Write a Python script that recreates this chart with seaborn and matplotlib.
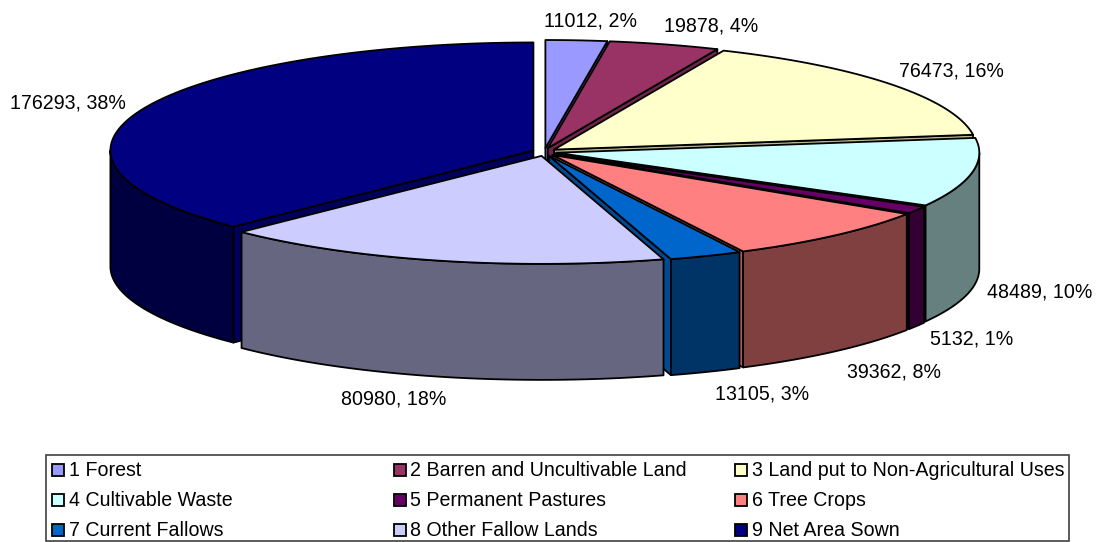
import numpy as np
import matplotlib
matplotlib.use("Agg")
import matplotlib.pyplot as plt
import seaborn as sns

names = ["1 Forest", "2 Barren and Uncultivable Land", "3 Land put to Non-Agricultural Uses",
         "4 Cultivable Waste", "5 Permanent Pastures", "6 Tree Crops",
         "7 Current Fallows", "8 Other Fallow Lands", "9 Net Area Sown"]
values = [11012, 19878, 76473, 48489, 5132, 39362, 13105, 80980, 176293]
percents = [2, 4, 16, 10, 1, 8, 3, 18, 38]
hex_colors = ["#9999FF", "#993366", "#FFFFCC", "#CCFFFF", "#660066",
              "#FF8080", "#0066CC", "#CCCCFF", "#000080"]

# label centres, in pixels of the picture
label_x = [590, 711, 951, 1040, 972, 894, 762, 394, 68]
label_y = [21, 26, 71, 292, 339, 372, 394, 399, 103]

sns.set_theme(style="white")
plt.rcParams["font.family"] = ["Liberation Sans", "DejaVu Sans"]
colors = np.array(sns.color_palette(hex_colors))

cx, cy = 544.5, 152
rx, ry = 423, 108
ex, ey = 12, 4
depth = 116
lw = 1.3
fs = 14.1

fig = plt.figure(figsize=(11.06, 5.42), dpi=100)
ax = fig.add_axes([0, 0, 1, 1])
ax.set_xlim(0, 1106)
ax.set_ylim(542, 0)
ax.axis("off")

vals = np.array(values, dtype=float)
edges = np.concatenate(([0], np.cumsum(vals))) / vals.sum() * 2 * np.pi


def rim(t, ox, oy):
    return ox + rx * np.sin(t), oy - ry * np.cos(t)


def wall(t, ox, oy, col):
    x, y = rim(t, ox, oy)
    ax.fill([ox, x, x, ox], [oy, y, y + depth, oy + depth],
            facecolor=col * 0.72, edgecolor="black", lw=lw, joinstyle="round")


mids = (edges[:-1] + edges[1:]) / 2
order = np.argsort(-np.cos(mids))

for i in order:
    t0, t1 = edges[i], edges[i + 1]
    ox = cx + ex * np.sin(mids[i])
    oy = cy - ey * np.cos(mids[i])
    # inner faces that look towards the viewer
    if np.sin(t1) > 1e-6:
        wall(t1, ox, oy, colors[i])
    if np.sin(t0) < -1e-6:
        wall(t0, ox, oy, colors[i])
    # outer side, only the front half of the ellipse shows
    a0, a1 = max(t0, np.pi / 2), min(t1, 3 * np.pi / 2)
    if a1 > a0:
        t = np.linspace(a0, a1, 80)
        x, y = rim(t, ox, oy)
        ax.fill(np.r_[x, x[::-1]], np.r_[y, (y + depth)[::-1]],
                facecolor=colors[i] * 0.5, edgecolor="black", lw=lw, joinstyle="round")
    # top
    t = np.linspace(t0, t1, 120)
    x, y = rim(t, ox, oy)
    ax.fill(np.r_[ox, x], np.r_[oy, y], facecolor=colors[i],
            edgecolor="black", lw=lw, joinstyle="round")

for v, p, x, y in zip(values, percents, label_x, label_y):
    ax.text(x, y, f"{v}, {p}%", ha="center", va="center", fontsize=fs, color="black")

# legend box
ax.add_patch(plt.Rectangle((46, 454.5), 1023, 86, facecolor="white", edgecolor="#404040", lw=1.2))
col_x = [52, 393.5, 734.5]
row_y = [470, 500, 529.5]
for k, name in enumerate(names):
    sx = col_x[k % 3]
    sy = row_y[k // 3]
    ax.add_patch(plt.Rectangle((sx, sy - 6), 12, 12, facecolor=colors[k], edgecolor="black", lw=1.3))
    ax.text(sx + 17, sy + 0.5, name, ha="left", va="center", fontsize=fs, color="black")

fig.savefig("out.png", dpi=100, facecolor="white")
